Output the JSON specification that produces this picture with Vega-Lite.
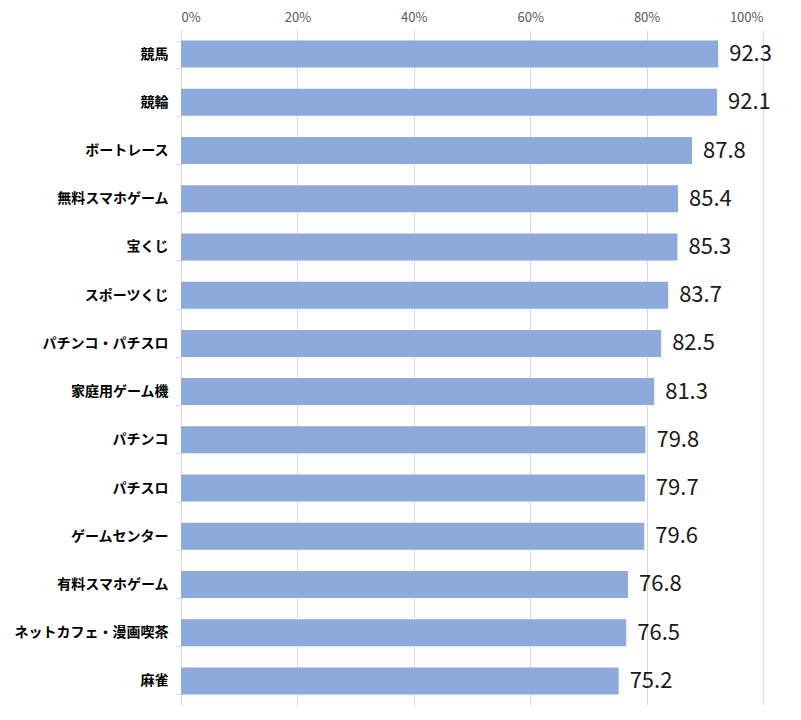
{
  "$schema": "https://vega.github.io/schema/vega-lite/v6.json",
  "autosize": {"type": "none"},
  "padding": {"left": 181, "top": 30, "right": 38, "bottom": 15},
  "width": 582,
  "height": 675,
  "background": "white",
  "config": {
    "view": {"stroke": null},
    "font": "Noto Sans CJK JP"
  },
  "data": {
    "values": [
      {"item": "競馬", "value": 92.3},
      {"item": "競輪", "value": 92.1},
      {"item": "ボートレース", "value": 87.8},
      {"item": "無料スマホゲーム", "value": 85.4},
      {"item": "宝くじ", "value": 85.3},
      {"item": "スポーツくじ", "value": 83.7},
      {"item": "パチンコ・パチスロ", "value": 82.5},
      {"item": "家庭用ゲーム機", "value": 81.3},
      {"item": "パチンコ", "value": 79.8},
      {"item": "パチスロ", "value": 79.7},
      {"item": "ゲームセンター", "value": 79.6},
      {"item": "有料スマホゲーム", "value": 76.8},
      {"item": "ネットカフェ・漫画喫茶", "value": 76.5},
      {"item": "麻雀", "value": 75.2}
    ]
  },
  "encoding": {
    "y": {
      "field": "item",
      "type": "nominal",
      "sort": null,
      "title": null,
      "scale": {"paddingInner": 0.44, "paddingOuter": 0.22},
      "axis": {
        "domainColor": "#d9d9d9",
        "tickColor": "#d9d9d9",
        "tickSize": 5,
        "tickBand": "extent",
        "labelFontSize": 14,
        "labelFontWeight": "bold",
        "labelColor": "#000000",
        "labelPadding": 8,
        "grid": false
      }
    },
    "x": {
      "field": "value",
      "type": "quantitative",
      "title": null,
      "scale": {"domain": [0, 100]},
      "axis": {
        "orient": "top",
        "values": [0, 20, 40, 60, 80, 100],
        "labelExpr": "datum.value + '%'",
        "domain": false,
        "ticks": false,
        "grid": true,
        "gridColor": "#d9d9d9",
        "labelFontSize": 13,
        "labelColor": "#595959",
        "labelPadding": 6
      }
    }
  },
  "layer": [
    {"mark": {"type": "bar", "color": "#8eaadc"}},
    {
      "mark": {"type": "text", "align": "left", "baseline": "middle", "dx": 11, "fontSize": 22, "color": "#1a1a1a"},
      "encoding": {"text": {"field": "value", "type": "quantitative", "format": ".1f"}}
    }
  ]
}
